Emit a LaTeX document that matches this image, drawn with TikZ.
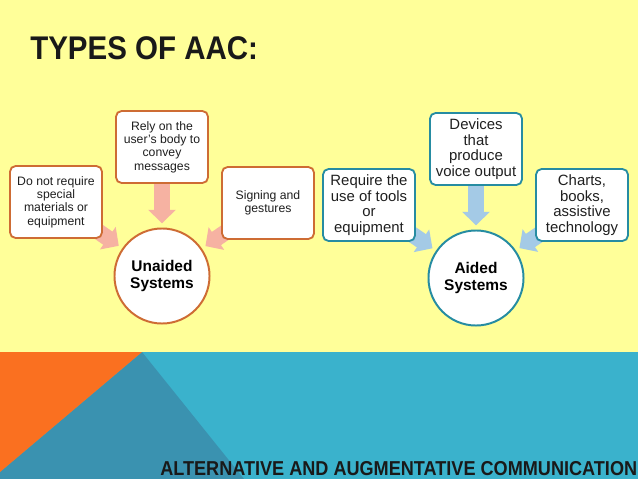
\documentclass[tikz,border=0pt]{standalone}
\usepackage{fontspec}
\setmainfont{Liberation Sans}
\newfontfamily\narrowfont[FakeStretch=0.9]{Liberation Sans}
\usetikzlibrary{arrows.meta,positioning,shapes.geometric}
\definecolor{slideyellow}{RGB}{255,255,153}
\definecolor{footerblue}{RGB}{58,178,204}
\definecolor{deepteal}{RGB}{58,146,176}
\definecolor{accentorange}{RGB}{250,112,32}
\definecolor{unaidedline}{RGB}{206,108,52}
\definecolor{unaidedarrow}{RGB}{246,178,162}
\definecolor{aidedline}{RGB}{38,140,162}
\definecolor{aidedarrow}{RGB}{164,202,230}
\definecolor{boxtext}{gray}{0.12}
\pgfdeclarelayer{backdrop}
\pgfdeclarelayer{arrowlayer}
\pgfsetlayers{backdrop,arrowlayer,main}
\tikzset{
  infobox/.style={
    rectangle, rounded corners=4pt, fill=white, text=boxtext,
    minimum width=2.3cm, minimum height=1.8cm,
    line width=1.3pt, align=center, inner sep=2pt
  },
  unaidedbox/.style={infobox, draw=unaidedline,
    font=\fontsize{8.7}{9.5}\selectfont},
  aidedbox/.style={infobox, draw=aidedline,
    font=\fontsize{10.6}{11}\selectfont},
  hubcircle/.style={
    circle, fill=white, text=black, line width=1.4pt,
    minimum size=2.375cm, align=center, inner sep=1pt,
    font=\bfseries\fontsize{11}{12.5}\selectfont
  },
  fatarrow/.style={-{Triangle[width=19pt,length=9.5pt]},
    line width=11.4pt, shorten >=3pt},
  slidetext/.style={anchor=base west, inner sep=0pt, text=black!90}
}

\begin{document}
\begin{tikzpicture}[x=0.025cm, y=-0.025cm]
  \begin{pgfonlayer}{backdrop}
    \fill[slideyellow] (0,0) rectangle (638,352);
    \fill[footerblue] (0,352) rectangle (638,479);
    \fill[deepteal] (142,352) -- (0,472) -- (0,479) -- (244,479) -- cycle;
    \fill[accentorange] (0,352) -- (142,352) -- (0,472) -- cycle;
  \end{pgfonlayer}
  \useasboundingbox (0,0) rectangle (638,479);

  \node[slidetext, font=\narrowfont\bfseries\fontsize{23.3}{26}\selectfont] (title) at (30,60) {TYPES OF AAC:};
  \node[slidetext, font=\narrowfont\bfseries\fontsize{14.3}{16}\selectfont] (footer) at (160,475.5) {ALTERNATIVE AND AUGMENTATIVE COMMUNICATION};

  \node[hubcircle, draw=unaidedline] (unaided) at (162,276) {Unaided\\Systems};
  \node[unaidedbox] (nospecial) at (56,202) {Do not require\\special\\materials or\\equipment};
  \node[unaidedbox] (userbody) at (162,147) {Rely on the\\user's body to\\convey\\messages};
  \node[unaidedbox] (signing) at (268,203) {Signing and\\gestures};

  \node[hubcircle, draw=aidedline] (aided) at (476,278) {Aided\\Systems};
  \node[aidedbox] (tools) at (369,205) {Require the\\use of tools\\or\\equipment};
  \node[aidedbox] (voiceout) at (476,149) {Devices\\that\\produce\\voice output};
  \node[aidedbox] (charts) at (582,205) {Charts,\\books,\\assistive\\technology};

  \begin{pgfonlayer}{arrowlayer}
    \foreach \src in {nospecial,userbody,signing}
      \draw[fatarrow, draw=unaidedarrow] (\src.center) -- (unaided);
    \foreach \src in {tools,voiceout,charts}
      \draw[fatarrow, draw=aidedarrow] (\src.center) -- (aided);
  \end{pgfonlayer}
\end{tikzpicture}
\end{document}
